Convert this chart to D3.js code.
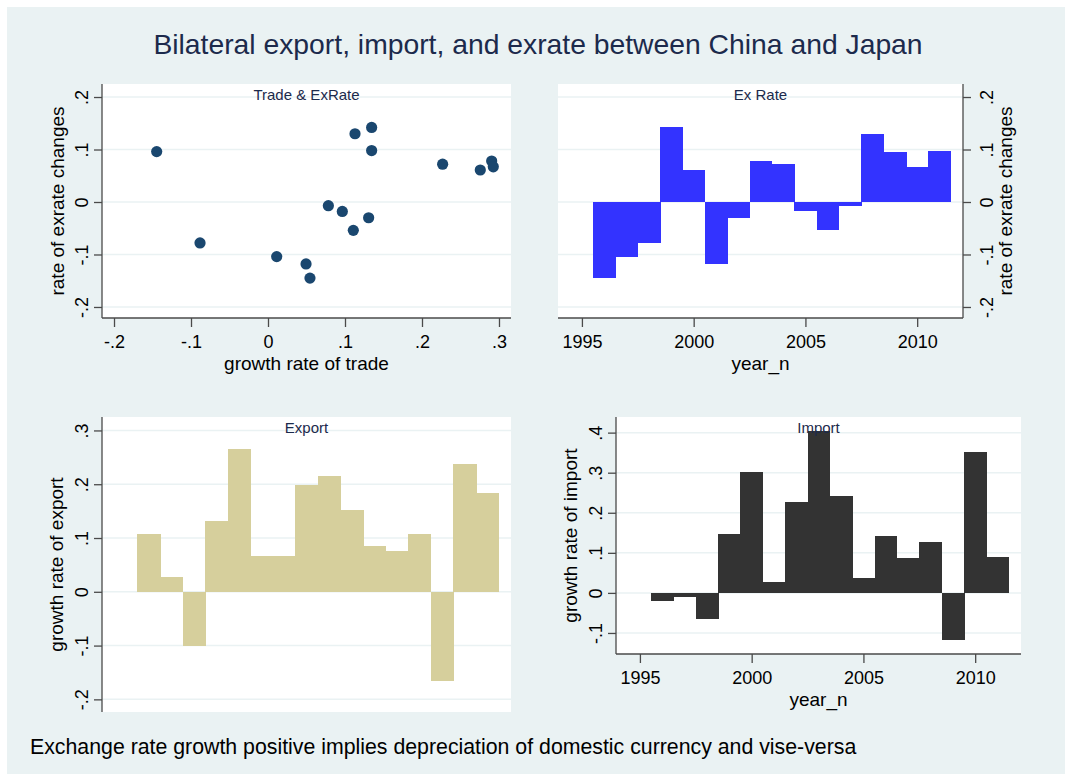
<!DOCTYPE html>
<html>
<head>
<meta charset="utf-8">
<script src="https://cdn.jsdelivr.net/npm/d3@7"></script>
<style>
  body { margin: 0; background: #fff; }
  text { font-family: "Liberation Sans", Arial, sans-serif; }
</style>
</head>
<body>
<svg id="chart" width="1065" height="774"></svg>
<script>
// data, one value per year
const years = [1996, 1997, 1998, 1999, 2000, 2001, 2002, 2003, 2004, 2005, 2006, 2007, 2008, 2009, 2010, 2011];
const exRate = [-0.145, -0.104, -0.078, 0.142, 0.061, -0.118, -0.030, 0.078, 0.072, -0.018, -0.054, -0.007, 0.130, 0.096, 0.067, 0.098];
const tradeGrowth = [0.0545, 0.0113, -0.0883, 0.1346, 0.2757, 0.0494, 0.1307, 0.2905, 0.2268, 0.0965, 0.1108, 0.0784, 0.113, -0.1446, 0.2926, 0.1346];
const exportGrowth = [0.107, 0.028, -0.101, 0.131, 0.265, 0.067, 0.067, 0.199, 0.215, 0.152, 0.086, 0.075, 0.107, -0.165, 0.237, 0.183];
const importGrowth = [-0.020, -0.009, -0.066, 0.147, 0.302, 0.026, 0.227, 0.405, 0.2425, 0.037, 0.143, 0.086, 0.126, -0.1175, 0.352, 0.090];

const yearTicks = [1995, 2000, 2005, 2010];
const exTicks = [-0.2, -0.1, 0, 0.1, 0.2];
const tradeTicks = [-0.2, -0.1, 0, 0.1, 0.2, 0.3];
const exportTicks = [-0.2, -0.1, 0, 0.1, 0.2, 0.3];
const importTicks = [-0.1, 0, 0.1, 0.2, 0.3, 0.4];

const svg = d3.select("#chart");
const bg = "#eaf2f3";
const axisColor = "#4a4a4a";
const titleColor = "#1c2a4c";

svg.append("rect").attr("x", 7).attr("y", 7).attr("width", 1058).attr("height", 767).attr("fill", bg);

// stata style tick labels: .2, -.1, 0
const fmt = v => v === 0 ? "0" : d3.format(".1f")(v).replace("\u2212", "-").replace("0.", ".");

function makePanel(p) {
    const g = svg.append("g");
    const x = d3.scaleLinear().domain(p.xDomain).range([p.left, p.right]);
    const y = d3.scaleLinear().domain(p.yDomain).range([p.bottom, p.top]);

    g.append("rect")
        .attr("x", p.left).attr("y", p.top)
        .attr("width", p.right - p.left).attr("height", p.bottom - p.top)
        .attr("fill", "#fff");

    g.append("g").selectAll("line")
        .data(p.yTicks)
        .join("line")
        .attr("x1", p.left).attr("x2", p.right)
        .attr("y1", d => y(d)).attr("y2", d => y(d))
        .attr("stroke", bg).attr("stroke-width", 1.5);

    // marks go here, under the axes and subtitle
    const marks = g.append("g");

    // y axis (left or right)
    const yAxis = (p.yRight ? d3.axisRight(y) : d3.axisLeft(y))
        .tickValues(p.yTicks).tickFormat(fmt).tickSize(8).tickSizeOuter(0);
    const ya = g.append("g")
        .attr("transform", `translate(${p.yRight ? p.right : p.left},0)`)
        .call(yAxis);
    ya.select(".domain").attr("stroke", axisColor).attr("stroke-width", 1.3)
        .attr("d", `M0,${p.bottom}V${p.top}`);
    ya.selectAll(".tick line").attr("stroke", axisColor).attr("stroke-width", 1.3);
    ya.selectAll(".tick text")
        .attr("x", null).attr("dy", null)
        .attr("text-anchor", "middle")
        .attr("transform", `translate(${p.yRight ? 30 : -14},0) rotate(-90)`)
        .attr("font-size", 18).attr("fill", "#000");

    g.append("text")
        .attr("transform", `translate(${p.yTitleX},${(p.top + p.bottom) / 2}) rotate(-90)`)
        .attr("text-anchor", "middle")
        .attr("font-size", 19).attr("fill", "#000")
        .text(p.yTitle);

    if (p.xTicks) {
        const xa = g.append("g")
            .attr("transform", `translate(0,${p.bottom})`)
            .call(d3.axisBottom(x).tickValues(p.xTicks).tickFormat(p.xFormat).tickSize(9).tickSizeOuter(0));
        xa.select(".domain").attr("stroke", axisColor).attr("stroke-width", 1.3)
            .attr("d", `M${p.left},0H${p.right}`);
        xa.selectAll(".tick line").attr("stroke", axisColor).attr("stroke-width", 1.3);
        xa.selectAll(".tick text")
            .attr("y", 30).attr("dy", null)
            .attr("font-size", 18).attr("fill", "#000");
        g.append("text")
            .attr("x", (p.left + p.right) / 2).attr("y", p.bottom + 52)
            .attr("text-anchor", "middle")
            .attr("font-size", 19).attr("fill", "#000")
            .text(p.xTitle);
    }

    g.append("text")
        .attr("x", (p.left + p.right) / 2).attr("y", p.top + 16)
        .attr("text-anchor", "middle")
        .attr("font-size", 15).attr("fill", titleColor)
        .text(p.subtitle);

    return {marks, x, y};
}

function drawBars(panel, values, color) {
    const {marks, x, y} = panel;
    marks.attr("shape-rendering", "crispEdges")
        .selectAll("rect")
        .data(years.map((yr, i) => ({yr, v: values[i]})))
        .join("rect")
        .attr("x", d => x(d.yr - 0.5))
        .attr("width", d => x(d.yr + 0.5) - x(d.yr - 0.5) + 0.5)
        .attr("y", d => y(Math.max(0, d.v)))
        .attr("height", d => Math.abs(y(d.v) - y(0)))
        .attr("fill", color);
}

const yearDomain = [1993.93, 2012.05];

// Trade & ExRate scatter
const p1 = makePanel({
    left: 102, right: 511, top: 84, bottom: 318,
    xDomain: [-0.2156, 0.3156], yDomain: [-0.221, 0.2248],
    yTicks: exTicks, xTicks: tradeTicks, xFormat: fmt,
    yTitle: "rate of exrate changes", yTitleX: 64,
    xTitle: "growth rate of trade", subtitle: "Trade & ExRate"
});
p1.marks.selectAll("circle")
    .data(years.map((yr, i) => ({t: tradeGrowth[i], e: exRate[i]})))
    .join("circle")
    .attr("cx", d => p1.x(d.t))
    .attr("cy", d => p1.y(d.e))
    .attr("r", 5.6)
    .attr("fill", "#1a476f");

// Ex Rate bars, axis on the right
const p2 = makePanel({
    left: 558, right: 963, top: 84, bottom: 318,
    xDomain: yearDomain, yDomain: [-0.221, 0.2248],
    yTicks: exTicks, yRight: true, xTicks: yearTicks, xFormat: d3.format("d"),
    yTitle: "rate of exrate changes", yTitleX: 1012,
    xTitle: "year_n", subtitle: "Ex Rate"
});
drawBars(p2, exRate, "#3333ff");

// Export bars, no x axis
const p3 = makePanel({
    left: 102, right: 511, top: 417, bottom: 712,
    xDomain: yearDomain, yDomain: [-0.2235, 0.325],
    yTicks: exportTicks,
    yTitle: "growth rate of export", yTitleX: 63,
    subtitle: "Export"
});
drawBars(p3, exportGrowth, "#d6cf9c");

// Import bars
const p4 = makePanel({
    left: 616, right: 1021, top: 417, bottom: 654,
    xDomain: yearDomain, yDomain: [-0.1525, 0.439],
    yTicks: importTicks, xTicks: yearTicks, xFormat: d3.format("d"),
    yTitle: "growth rate of import", yTitleX: 577,
    xTitle: "year_n", subtitle: "Import"
});
drawBars(p4, importGrowth, "#333333");

svg.append("text")
    .attr("x", 538).attr("y", 54)
    .attr("text-anchor", "middle")
    .attr("font-size", 28.3).attr("fill", titleColor)
    .text("Bilateral export, import, and exrate between China and Japan");

svg.append("text")
    .attr("x", 30).attr("y", 754)
    .attr("font-size", 21.3).attr("fill", "#000")
    .text("Exchange rate growth positive implies depreciation of domestic currency and vise-versa");
</script>
</body>
</html>
